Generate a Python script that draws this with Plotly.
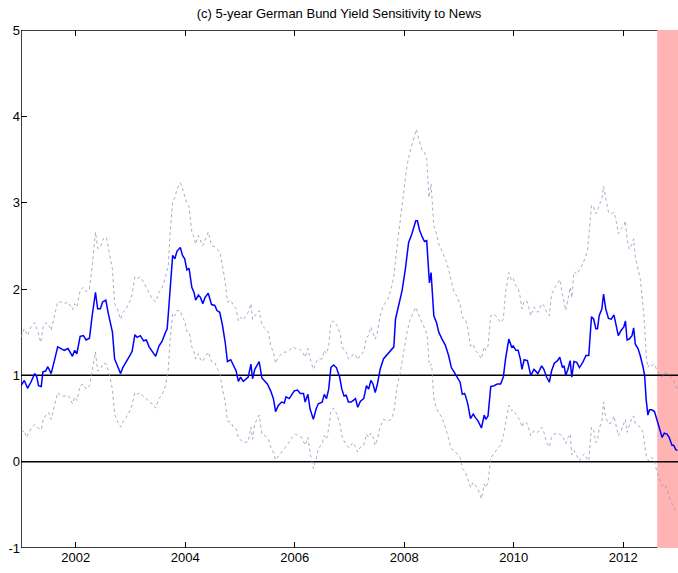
import plotly.graph_objects as go

# ---- data (fractional years) ----
blue_x = [2001.00,2001.06,2001.12,2001.18,2001.25,2001.29,2001.32,2001.37,2001.40,2001.45,2001.49,2001.55,2001.61,2001.67,2001.73,2001.79,2001.86,2001.90,2001.94,2001.98,
          2002.02,2002.08,2002.14,2002.19,2002.25,2002.30,2002.36,2002.40,2002.45,2002.49,2002.55,2002.59,2002.67,2002.71,2002.75,2002.82,2002.86,2002.92,2002.99,
          2003.03,2003.08,2003.12,2003.18,2003.24,2003.29,2003.34,2003.40,2003.46,2003.52,2003.58,2003.64,2003.67,2003.72,2003.77,2003.81,2003.85,2003.91,2003.95,2003.99,
          2004.03,2004.07,2004.12,2004.16,2004.19,2004.24,2004.28,2004.32,2004.36,2004.42,2004.48,2004.54,2004.58,2004.63,2004.68,2004.73,2004.77,2004.83,2004.88,2004.93,2004.97,
          2005.01,2005.06,2005.15,2005.20,2005.23,2005.27,2005.35,2005.40,2005.44,2005.50,2005.56,2005.61,2005.65,2005.70,2005.76,2005.81,2005.84,2005.90,2005.95,2005.99,
          2006.05,2006.10,2006.16,2006.19,2006.24,2006.28,2006.34,2006.39,2006.43,2006.50,2006.54,2006.58,2006.62,2006.66,2006.71,2006.76,2006.82,2006.86,2006.90,2006.94,2006.98,
          2007.03,2007.07,2007.11,2007.15,2007.20,2007.26,2007.31,2007.35,2007.39,2007.43,2007.47,2007.51,2007.56,2007.62,2007.70,2007.76,2007.81,2007.84,2007.90,2007.96,
          2008.02,2008.08,2008.14,2008.21,2008.24,2008.28,2008.33,2008.37,2008.41,2008.43,2008.46,2008.49,2008.54,2008.59,2008.63,2008.69,2008.75,2008.81,2008.86,2008.91,2008.96,
          2009.02,2009.06,2009.10,2009.12,2009.16,2009.21,2009.26,2009.30,2009.35,2009.41,2009.46,2009.49,2009.53,2009.58,2009.64,2009.70,2009.76,2009.81,2009.85,2009.91,2009.96,2009.99,
          2010.04,2010.08,2010.12,2010.15,2010.19,2010.25,2010.31,2010.37,2010.44,2010.51,2010.55,2010.60,2010.65,2010.69,2010.74,2010.80,2010.84,2010.89,2010.92,2010.95,2010.99,
          2011.03,2011.06,2011.10,2011.15,2011.20,2011.26,2011.32,2011.37,2011.42,2011.46,2011.50,2011.53,2011.56,2011.61,2011.64,2011.68,2011.73,2011.78,2011.83,2011.87,2011.91,2011.96,
          2012.01,2012.04,2012.07,2012.11,2012.16,2012.19,2012.22,2012.27,2012.31,2012.36,2012.39,2012.42,2012.45,2012.48,2012.52,2012.57,2012.62,2012.66,2012.71,2012.75,2012.80,2012.84,2012.89,2012.92,2012.96,2012.99]
blue_y = [0.88,0.94,0.85,0.92,1.02,0.98,0.88,0.87,1.04,1.05,1.10,1.02,1.17,1.33,1.31,1.29,1.31,1.27,1.22,1.29,
          1.25,1.45,1.46,1.41,1.43,1.69,1.96,1.77,1.77,1.85,1.87,1.73,1.50,1.19,1.13,1.02,1.09,1.15,1.23,
          1.28,1.47,1.44,1.46,1.40,1.41,1.33,1.27,1.22,1.34,1.40,1.50,1.54,1.96,2.39,2.35,2.44,2.48,2.39,2.35,
          2.22,2.24,2.02,1.96,1.87,1.93,1.90,1.83,1.90,1.95,1.82,1.81,1.75,1.73,1.58,1.38,1.16,1.18,1.11,1.05,0.93,
          0.98,0.93,0.98,1.13,0.96,1.07,1.16,0.97,0.94,0.90,0.82,0.73,0.58,0.65,0.69,0.68,0.75,0.73,0.78,0.82,
          0.83,0.79,0.79,0.69,0.78,0.61,0.49,0.61,0.67,0.69,0.78,0.73,0.84,1.09,1.12,1.09,0.98,0.84,0.76,0.77,0.69,
          0.69,0.71,0.73,0.63,0.70,0.73,0.88,0.84,0.94,0.90,0.80,0.90,1.07,1.19,1.25,1.29,1.33,1.65,1.83,1.98,
          2.23,2.54,2.64,2.79,2.79,2.68,2.60,2.55,2.56,2.35,2.07,2.19,1.69,1.61,1.50,1.42,1.35,1.23,1.09,1.04,0.99,
          0.92,0.78,0.79,0.76,0.67,0.50,0.55,0.51,0.47,0.39,0.54,0.49,0.53,0.87,0.88,0.90,0.90,0.98,1.19,1.42,1.33,1.34,
          1.29,1.29,1.19,1.07,1.18,1.17,1.00,1.07,1.02,1.11,1.07,0.98,0.92,1.05,1.14,1.17,1.21,1.09,1.11,1.00,1.07,
          1.17,0.98,1.16,1.15,1.09,1.15,1.23,1.23,1.68,1.65,1.54,1.54,1.69,1.77,1.94,1.77,1.66,1.65,1.70,1.59,1.46,1.52,
          1.56,1.63,1.41,1.42,1.46,1.55,1.36,1.31,1.23,1.10,1.00,0.71,0.54,0.60,0.60,0.58,0.46,0.39,0.28,0.33,0.32,0.28,0.19,0.19,0.14,0.13]

upper_x = [2001.00,2001.06,2001.12,2001.18,2001.25,2001.31,2001.36,2001.41,2001.46,2001.51,2001.55,2001.61,2001.67,2001.73,2001.79,2001.86,2001.90,2001.94,2001.98,
           2002.02,2002.08,2002.14,2002.19,2002.25,2002.30,2002.36,2002.40,2002.45,2002.50,2002.56,2002.61,2002.67,2002.71,2002.76,2002.82,2002.86,2002.92,2002.99,
           2003.03,2003.08,2003.12,2003.18,2003.24,2003.29,2003.34,2003.40,2003.46,2003.52,2003.58,2003.64,2003.69,2003.72,2003.77,2003.81,2003.85,2003.91,2003.95,2003.99,
           2004.03,2004.07,2004.12,2004.16,2004.19,2004.24,2004.28,2004.32,2004.36,2004.42,2004.48,2004.54,2004.58,2004.63,2004.68,2004.73,2004.77,2004.83,2004.88,2004.93,2004.97,
           2005.01,2005.06,2005.15,2005.20,2005.23,2005.27,2005.35,2005.40,2005.46,2005.52,2005.56,2005.61,2005.65,2005.70,2005.76,2005.82,2005.86,2005.91,2005.96,
           2006.02,2006.08,2006.14,2006.19,2006.24,2006.29,2006.34,2006.39,2006.43,2006.50,2006.54,2006.58,2006.62,2006.66,2006.71,2006.77,2006.83,2006.86,2006.90,2006.94,2006.98,
           2007.03,2007.07,2007.11,2007.15,2007.20,2007.26,2007.31,2007.35,2007.39,2007.43,2007.47,2007.51,2007.56,2007.62,2007.70,2007.76,2007.81,2007.87,2007.93,2007.99,
           2008.05,2008.11,2008.17,2008.22,2008.28,2008.33,2008.37,2008.41,2008.45,2008.49,2008.54,2008.59,2008.63,2008.69,2008.75,2008.81,2008.86,2008.91,2008.96,
           2009.02,2009.06,2009.12,2009.16,2009.21,2009.26,2009.30,2009.35,2009.41,2009.46,2009.49,2009.53,2009.58,2009.64,2009.70,2009.76,2009.81,2009.85,2009.91,2009.96,2009.99,
           2010.04,2010.08,2010.12,2010.15,2010.19,2010.25,2010.31,2010.37,2010.44,2010.51,2010.55,2010.60,2010.65,2010.69,2010.74,2010.80,2010.84,2010.89,2010.91,2010.95,2010.99,
           2011.03,2011.06,2011.10,2011.15,2011.20,2011.26,2011.32,2011.35,2011.42,2011.46,2011.50,2011.53,2011.58,2011.61,2011.64,2011.68,2011.73,2011.78,2011.83,2011.87,2011.91,2011.96,
           2012.01,2012.04,2012.07,2012.11,2012.16,2012.19,2012.22,2012.27,2012.31,2012.36,2012.39,2012.42,2012.45,2012.48,2012.52,2012.57,2012.62,2012.66,2012.71,2012.75,2012.80,2012.84,2012.89,2012.92,2012.96,2012.99]
upper_y = [1.44,1.54,1.46,1.56,1.61,1.50,1.38,1.58,1.61,1.58,1.52,1.69,1.85,1.85,1.83,1.85,1.81,1.76,1.83,
           1.79,1.98,2.02,1.97,2.00,2.27,2.66,2.47,2.48,2.58,2.60,2.43,2.23,1.83,1.77,1.65,1.73,1.77,1.86,
           1.94,2.14,2.12,2.14,2.08,2.02,1.96,1.88,1.85,1.96,2.02,2.14,2.27,2.62,3.02,3.06,3.16,3.23,3.16,3.06,
           2.99,2.95,2.66,2.60,2.52,2.62,2.56,2.50,2.56,2.66,2.50,2.49,2.46,2.43,2.27,2.08,1.85,1.87,1.81,1.77,1.63,
           1.67,1.64,1.73,1.83,1.65,1.69,1.75,1.58,1.54,1.50,1.34,1.27,1.14,1.21,1.25,1.27,1.27,1.29,1.33,
           1.31,1.31,1.27,1.21,1.31,1.17,1.07,1.15,1.19,1.19,1.29,1.25,1.34,1.61,1.63,1.58,1.48,1.34,1.29,1.27,1.19,
           1.21,1.25,1.23,1.18,1.24,1.27,1.44,1.46,1.56,1.50,1.42,1.50,1.69,1.81,1.88,2.00,2.15,2.50,2.81,3.12,
           3.43,3.60,3.74,3.85,3.70,3.60,3.58,3.51,3.06,3.22,2.73,2.64,2.52,2.43,2.35,2.23,2.08,1.96,1.92,
           1.83,1.67,1.65,1.54,1.34,1.36,1.29,1.25,1.19,1.33,1.29,1.34,1.69,1.71,1.67,1.61,1.65,1.96,2.19,2.10,2.12,
           2.04,2.01,1.90,1.77,1.86,1.85,1.69,1.79,1.73,1.83,1.81,1.73,1.69,1.94,2.00,2.06,2.11,1.94,1.88,1.75,1.88,
           2.02,1.90,2.20,2.17,2.23,2.29,2.39,2.46,2.97,2.95,2.87,2.91,3.00,3.04,3.19,3.04,2.89,2.87,2.89,2.79,2.64,2.70,
           2.73,2.79,2.58,2.46,2.52,2.58,2.37,2.23,2.12,1.81,1.58,1.23,1.09,1.13,1.11,1.13,1.05,1.02,0.98,1.03,1.02,1.00,0.96,0.94,0.88,0.84]

lower_x = [2001.00,2001.06,2001.10,2001.18,2001.25,2001.31,2001.37,2001.41,2001.46,2001.51,2001.55,2001.61,2001.67,2001.73,2001.79,2001.86,2001.90,2001.94,2001.98,
           2002.02,2002.08,2002.14,2002.19,2002.25,2002.30,2002.36,2002.40,2002.45,2002.50,2002.56,2002.61,2002.67,2002.71,2002.76,2002.82,2002.86,2002.92,2002.99,
           2003.03,2003.08,2003.12,2003.18,2003.24,2003.29,2003.34,2003.40,2003.46,2003.52,2003.58,2003.64,2003.69,2003.72,2003.77,2003.81,2003.85,2003.91,2003.95,2003.99,
           2004.03,2004.07,2004.12,2004.16,2004.19,2004.24,2004.28,2004.32,2004.36,2004.42,2004.48,2004.54,2004.58,2004.63,2004.68,2004.73,2004.77,2004.83,2004.88,2004.93,2004.97,
           2005.01,2005.06,2005.15,2005.20,2005.23,2005.27,2005.35,2005.40,2005.46,2005.52,2005.56,2005.61,2005.65,2005.70,2005.76,2005.82,2005.88,2005.95,
           2006.01,2006.07,2006.13,2006.19,2006.24,2006.29,2006.34,2006.39,2006.43,2006.50,2006.54,2006.58,2006.62,2006.66,2006.71,2006.77,2006.83,2006.86,2006.90,2006.95,2006.99,
           2007.03,2007.07,2007.11,2007.15,2007.20,2007.26,2007.31,2007.35,2007.39,2007.43,2007.47,2007.51,2007.56,2007.62,2007.70,2007.76,2007.81,2007.87,2007.93,2007.99,
           2008.05,2008.11,2008.16,2008.21,2008.27,2008.33,2008.39,2008.42,2008.46,2008.50,2008.54,2008.59,2008.63,2008.69,2008.75,2008.81,2008.86,2008.91,2008.96,
           2009.02,2009.06,2009.12,2009.16,2009.21,2009.26,2009.30,2009.35,2009.41,2009.46,2009.49,2009.53,2009.58,2009.64,2009.70,2009.76,2009.81,2009.85,2009.91,2009.96,2009.99,
           2010.04,2010.08,2010.12,2010.15,2010.19,2010.25,2010.31,2010.37,2010.44,2010.51,2010.55,2010.60,2010.65,2010.69,2010.74,2010.80,2010.84,2010.89,2010.95,2010.99,
           2011.03,2011.06,2011.10,2011.15,2011.20,2011.24,2011.29,2011.34,2011.37,2011.42,2011.46,2011.50,2011.53,2011.56,2011.61,2011.64,2011.68,2011.73,2011.78,2011.83,2011.87,2011.91,2011.96,
           2012.01,2012.04,2012.07,2012.11,2012.16,2012.19,2012.22,2012.27,2012.31,2012.36,2012.39,2012.42,2012.46,2012.51,2012.56,2012.60,2012.66,2012.71,2012.75,2012.80,2012.84,2012.89,2012.92,2012.96,2012.99]
lower_y = [0.34,0.36,0.28,0.38,0.43,0.39,0.37,0.51,0.54,0.57,0.49,0.64,0.80,0.76,0.76,0.77,0.73,0.67,0.75,
           0.71,0.88,0.90,0.84,0.88,1.07,1.27,1.05,1.07,1.14,1.13,1.02,0.84,0.55,0.47,0.40,0.46,0.51,0.59,
           0.66,0.80,0.78,0.80,0.75,0.73,0.69,0.67,0.62,0.73,0.78,0.88,1.07,1.38,1.72,1.69,1.75,1.75,1.67,1.63,
           1.51,1.50,1.33,1.27,1.19,1.25,1.18,1.16,1.21,1.27,1.16,1.15,1.08,1.04,0.84,0.69,0.47,0.46,0.40,0.38,0.28,
           0.25,0.22,0.23,0.40,0.26,0.44,0.54,0.32,0.30,0.26,0.17,0.11,0.02,0.06,0.11,0.15,0.21,0.28,
           0.32,0.30,0.28,0.19,0.28,0.07,-0.08,0.03,0.15,0.21,0.30,0.26,0.38,0.59,0.62,0.55,0.42,0.30,0.24,0.19,0.16,
           0.20,0.22,0.17,0.11,0.17,0.19,0.32,0.28,0.33,0.28,0.19,0.26,0.40,0.49,0.47,0.49,0.57,0.88,1.04,1.27,
           1.50,1.65,1.73,1.79,1.69,1.61,1.52,1.46,1.11,1.13,0.73,0.61,0.57,0.51,0.40,0.26,0.15,0.13,0.09,
           0.05,-0.08,-0.12,-0.20,-0.30,-0.24,-0.28,-0.32,-0.43,-0.26,-0.30,-0.24,0.05,0.09,0.15,0.19,0.30,0.46,0.65,0.59,0.60,
           0.55,0.51,0.47,0.40,0.46,0.44,0.30,0.36,0.34,0.40,0.34,0.22,0.17,0.28,0.32,0.33,0.32,0.30,0.21,0.28,
           0.32,0.08,0.13,0.07,0.01,0.06,0.09,0.03,0.01,0.40,0.36,0.22,0.24,0.38,0.47,0.69,0.51,0.44,0.45,0.53,0.42,0.30,0.36,
           0.44,0.49,0.34,0.42,0.51,0.53,0.44,0.42,0.40,0.34,0.22,0.07,0.01,0.05,0.03,-0.08,-0.20,-0.28,-0.26,-0.32,-0.41,-0.49,-0.53,-0.57,-0.58]

title_text = "(c) 5-year German Bund Yield Sensitivity to News"
x_range = [2001.0, 2013.0]
y_range = [-1, 5]
x_ticks = [2002, 2004, 2006, 2008, 2010, 2012]
y_ticks = [-1, 0, 1, 2, 3, 4, 5]
ref_lines = [0, 1]
shade_start = 2012.62

band_style = dict(color="rgba(150,150,185,0.8)", width=1, dash="dot")

fig = go.Figure()
fig.add_trace(go.Scatter(x=upper_x, y=upper_y, mode="lines", line=band_style, hoverinfo="skip"))
fig.add_trace(go.Scatter(x=lower_x, y=lower_y, mode="lines", line=band_style, hoverinfo="skip"))
fig.add_trace(go.Scatter(x=blue_x, y=blue_y, mode="lines", line=dict(color="#0000ff", width=1.5), hoverinfo="skip"))

shapes = [
    dict(type="rect", xref="x", yref="y", x0=x_range[0], x1=x_range[1], y0=y_range[0], y1=y_range[1],
         line=dict(color="black", width=1.5), fillcolor="rgba(0,0,0,0)", layer="below"),
    dict(type="rect", xref="x", yref="y", x0=shade_start, x1=x_range[1], y0=y_range[0], y1=y_range[1],
         line=dict(width=0), fillcolor="#ffb3b3", layer="below"),
]
for v in ref_lines:
    shapes.append(dict(type="line", xref="x", yref="y", x0=x_range[0], x1=x_range[1], y0=v, y1=v,
                       line=dict(color="black", width=1.5), layer="below"))

fig.update_layout(
    width=678, height=573,
    margin=dict(l=21, r=0, t=30, b=25, autoexpand=False),
    paper_bgcolor="white", plot_bgcolor="white",
    showlegend=False,
    font=dict(family="Liberation Sans, Arial, sans-serif", size=13, color="black"),
    title=dict(text=title_text, x=0.5, xanchor="center", y=1 - 13 / 573, yanchor="middle",
               font=dict(size=13, color="black")),
    shapes=shapes,
    xaxis=dict(range=x_range, tickvals=x_ticks, ticktext=[str(t) for t in x_ticks],
               showgrid=False, zeroline=False, showline=False, automargin=False,
               ticks="inside", ticklen=6, tickwidth=1, tickcolor="black", mirror="ticks"),
    yaxis=dict(range=y_range, tickvals=y_ticks, ticktext=[str(t) for t in y_ticks],
               showgrid=False, zeroline=False, showline=False, automargin=False,
               ticks="inside", ticklen=6, tickwidth=1, tickcolor="black"),
)

fig.write_html("out.html", config={"displayModeBar": False},
               post_script="document.body.style.margin='0';document.body.style.overflow='hidden';")
